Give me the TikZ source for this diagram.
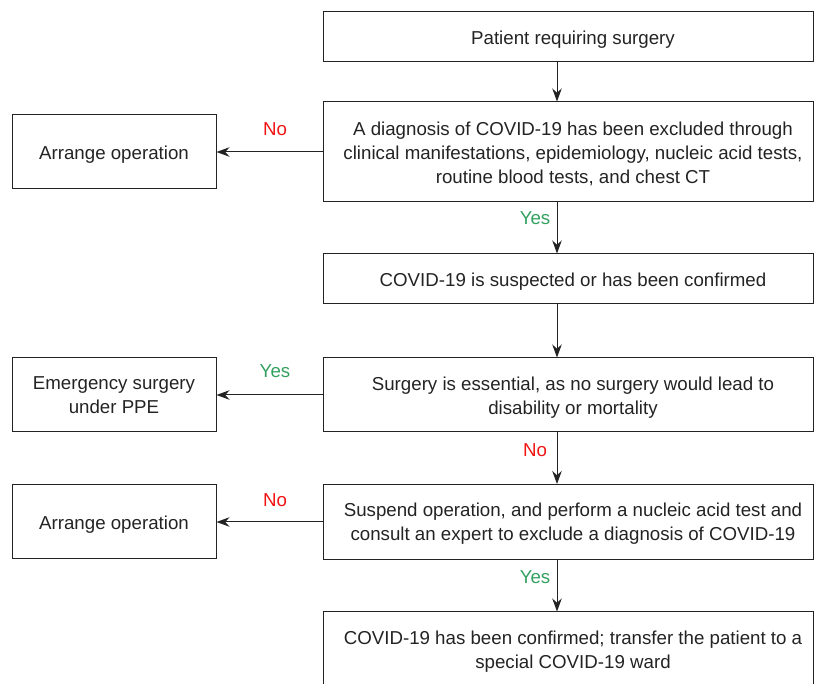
\documentclass[tikz,border=0pt]{standalone}
\usepackage{fontspec}
\setmainfont{Liberation Sans}
\usetikzlibrary{arrows.meta}
\definecolor{nored}{RGB}{240,20,20}
\definecolor{yesgreen}{RGB}{50,160,95}
\definecolor{ink}{RGB}{35,35,35}
\newcommand{\mtxt}[2][-3pt]{\raisebox{#1}[\height][\depth]{\begin{tabular}{@{\hspace{10pt}}c@{}}#2\end{tabular}}}
\newcommand{\lowtxt}[1]{\raisebox{-3pt}[\height][\depth]{#1}}
\tikzset{
  box/.style={draw=ink, line width=1pt, text=ink, inner sep=2pt,
    font=\fontsize{18.7}{24}\selectfont},
  mainbox/.style={box, minimum width=490pt},
  sidebox/.style={box, align=center, minimum width=204pt, minimum height=74pt},
  arr/.style={draw=ink, line width=1pt, -{Stealth[length=13pt,width=9.5pt]}},
  lab/.style={font=\fontsize{18.7}{22}\selectfont},
}
\begin{document}
\begin{tikzpicture}[x=1pt,y=-1pt]
\useasboundingbox (0,0) rectangle (815,684);
\coordinate (ax) at (557,0);
\node[mainbox, minimum height=50pt] (b1) at (568,37) {\mtxt{Patient requiring surgery}};
\node[mainbox, minimum height=100pt] (b2) at (568,152) {\mtxt{A diagnosis of COVID-19 has been excluded through\\clinical manifestations, epidemiology, nucleic acid tests,\\routine blood tests, and chest CT}};
\node[mainbox, minimum height=50pt] (b3) at (568,279) {\mtxt{COVID-19 is suspected or has been confirmed}};
\node[mainbox, minimum height=74pt] (b4) at (568,395) {\mtxt{Surgery is essential, as no surgery would lead to\\disability or mortality}};
\node[mainbox, minimum height=75pt] (b5) at (568,522) {\mtxt[-2pt]{Suspend operation, and perform a nucleic acid test and\\consult an expert to exclude a diagnosis of COVID-19}};
\node[mainbox, minimum height=88pt, text depth=22pt] (b6) at (568,656) {\mtxt[3pt]{COVID-19 has been confirmed; transfer the patient to a\\special COVID-19 ward}};
\node[sidebox] (l1) at (114,152) {\lowtxt{Arrange operation}};
\node[sidebox] (l2) at (114,395) {Emergency surgery\\under PPE};
\node[sidebox] (l3) at (114,522) {\lowtxt{Arrange operation}};
\draw[arr] (b1.south -| ax) -- (b2.north -| ax);
\draw[arr] (b2.south -| ax) -- (b3.north -| ax);
\draw[arr] (b3.south -| ax) -- (b4.north -| ax);
\draw[arr] (b4.south -| ax) -- (b5.north -| ax);
\draw[arr] (b5.south -| ax) -- (b6.north -| ax);
\draw[arr] (b2.west) -- (l1.east);
\draw[arr] (b4.west) -- (l2.east);
\draw[arr] (b5.west) -- (l3.east);
\node[lab, text=nored] (n1) at (275,129) {No};
\node[lab, text=yesgreen] (y1) at (275,371) {Yes};
\node[lab, text=nored] (n2) at (275,500) {No};
\node[lab, text=yesgreen] (y2) at (535,218) {Yes};
\node[lab, text=nored] (n3) at (535,450) {No};
\node[lab, text=yesgreen] (y3) at (535,577) {Yes};
\end{tikzpicture}
\end{document}
